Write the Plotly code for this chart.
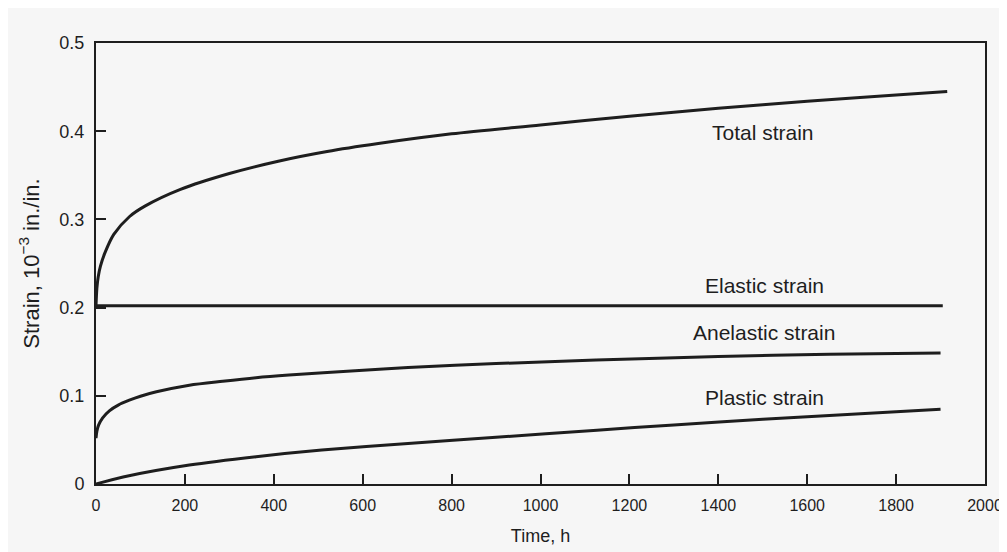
import plotly.graph_objects as go

# ---- data ----
total_t = [0, 2, 5, 10, 20, 40, 75, 110, 190, 300, 410, 520, 635, 800, 1000, 1200, 1400, 1600, 1800, 1915]
total_s = [0.202, 0.222, 0.235, 0.247, 0.262, 0.283, 0.303, 0.315, 0.334, 0.352, 0.366, 0.377, 0.386,
           0.397, 0.407, 0.417, 0.426, 0.434, 0.441, 0.445]

elastic_t = [0, 1905]
elastic_s = [0.202, 0.202]

anelastic_t = [0, 2, 6, 15, 30, 50, 75, 100, 136, 210, 285, 360, 434, 583, 702, 900, 1125, 1400, 1650, 1900]
anelastic_s = [0.052, 0.060, 0.067, 0.075, 0.083, 0.0895, 0.095, 0.0995, 0.1045, 0.112, 0.1165, 0.1205,
               0.1235, 0.1285, 0.132, 0.1365, 0.1405, 0.1445, 0.147, 0.1485]

plastic_t = [0, 61, 210, 360, 508, 702, 900, 1127, 1300, 1500, 1700, 1900]
plastic_s = [0.0, 0.008, 0.0215, 0.031, 0.0385, 0.046, 0.053, 0.061, 0.067, 0.0735, 0.079, 0.0847]

labels = ["Total strain", "Elastic strain", "Anelastic strain", "Plastic strain"]
label_x = [1501, 1503, 1503, 1503]
label_y = [0.398, 0.2245, 0.172, 0.0986]

x_ticks = [0, 200, 400, 600, 800, 1000, 1200, 1400, 1600, 1800, 2000]
y_ticks = [0, 0.1, 0.2, 0.3, 0.4, 0.5]
y_tick_text = ["0", "0.1", "0.2", "0.3", "0.4", "0.5"]

# ---- figure ----
ink = "#1e1e1e"
fam = "Liberation Sans, Arial, sans-serif"
fig = go.Figure()
for t, s in [(total_t, total_s), (elastic_t, elastic_s), (anelastic_t, anelastic_s), (plastic_t, plastic_s)]:
    fig.add_trace(go.Scatter(x=t, y=s, mode="lines", line=dict(color=ink, width=3, shape="spline", smoothing=0.8),
                             showlegend=False, hoverinfo="skip"))

for txt, lx, ly in zip(labels, label_x, label_y):
    fig.add_annotation(x=lx, y=ly, text=txt, showarrow=False, xanchor="center", yanchor="middle",
                       font=dict(family=fam, size=21, color=ink))

fig.update_layout(
    width=1007, height=552,
    margin=dict(l=88, r=25, t=35, b=76),
    paper_bgcolor="#f6f6f6", plot_bgcolor="#f6f6f6",
    font=dict(family=fam, size=18, color=ink),
)
fig.update_xaxes(
    range=[0, 2000], tickvals=x_ticks, ticks="inside", ticklen=10, tickwidth=1.5, tickcolor=ink,
    showline=True, linecolor=ink, linewidth=2, mirror=True, showgrid=False, zeroline=False,
    tickfont=dict(family=fam, size=16),
    ticklabelstandoff=6,
    title=dict(text="Time, h", font=dict(size=18), standoff=16),
)
fig.update_yaxes(
    range=[0, 0.5], tickvals=y_ticks, ticktext=y_tick_text, ticks="inside", ticklen=10, tickwidth=1.5,
    tickcolor=ink, showline=True, linecolor=ink, linewidth=2, mirror=True, showgrid=False, zeroline=False,
    tickfont=dict(size=18), ticklabelstandoff=6,
    title=dict(text="Strain, 10<sup>−3</sup> in./in.", font=dict(size=22), standoff=14),
)

fig.write_html("out.html")
